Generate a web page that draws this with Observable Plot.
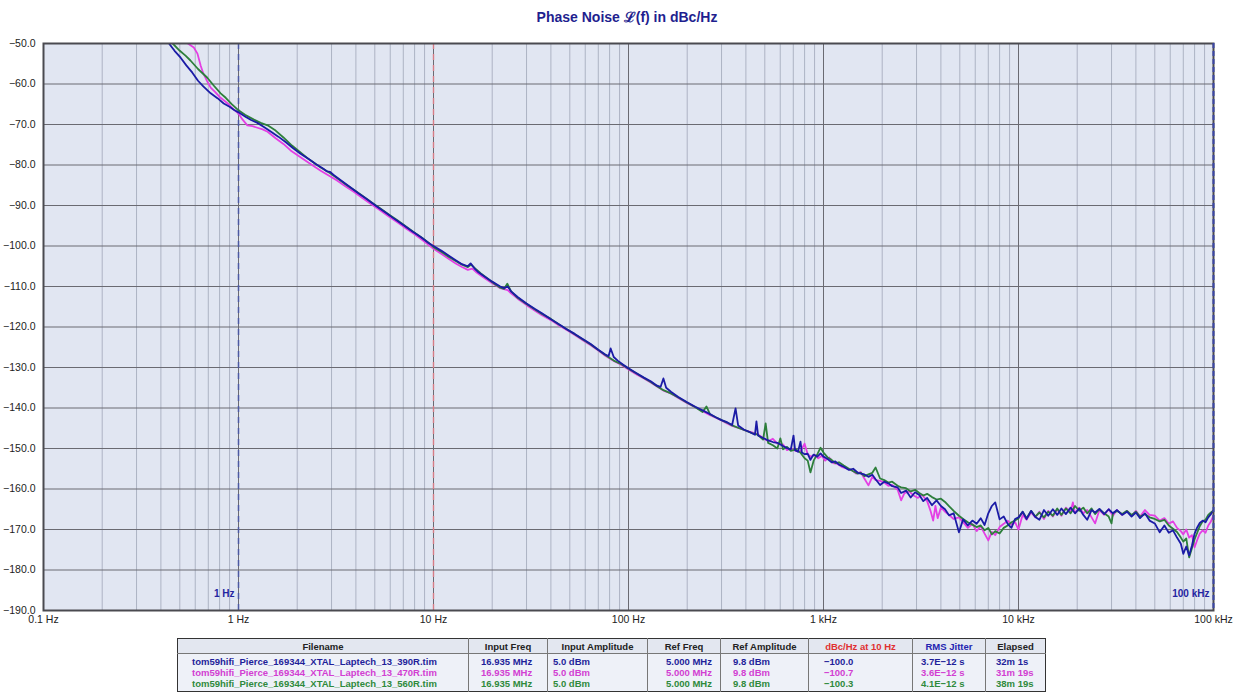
<!DOCTYPE html>
<html>
<head>
<meta charset="utf-8">
<script src="https://cdn.jsdelivr.net/npm/d3@7"></script>
<script src="https://cdn.jsdelivr.net/npm/@observablehq/plot@0.6"></script>
<style>
  html, body { margin: 0; padding: 0; background: #fff; }
  #wrap { position: relative; width: 1242px; height: 693px; overflow: hidden; font-family: "Liberation Sans", Arial, sans-serif; }
  #title { position: absolute; top: 7px; left: 627px; transform: translateX(-50%); font: bold 14px "Liberation Sans", Arial, sans-serif; color: #1f1f8f; white-space: nowrap; }
  #chart { position: absolute; top: 30px; left: 0; }
  #tbl { position: absolute; top: 638px; left: 177px; border-collapse: collapse; table-layout: fixed; font: bold 9.5px "Liberation Sans", Arial, sans-serif; border: 1.5px solid #333; }
  #tbl th { background: #e3e7f0; color: #222; font-weight: bold; text-align: center; height: 14px; padding: 0; border-left: 1px solid #777; border-bottom: 1px solid #777; }
  #tbl td { background: #eef1f8; text-align: left; padding: 0; height: 11px; line-height: 11px; border-left: 1px solid #777; white-space: nowrap; }
</style>
</head>
<body>
<div id="wrap">
  <div id="title">Phase Noise ℒ(f) in dBc/Hz</div>
  <div id="chart"></div>
  <table id="tbl"></table>
</div>
<script>
// ---------- data ----------
const seriesNames = ["390R", "470R", "560R"];
const seriesColors = ["#1b1ba6", "#e43fe4", "#2d7f3b"];
const textColors = ["#1f1f9a", "#d23ed2", "#2f8a3c"];

const xTickValues = [0.1, 1, 10, 100, 1000, 10000, 100000];
const xTickLabels = ["0.1 Hz", "1 Hz", "10 Hz", "100 Hz", "1 kHz", "10 kHz", "100 kHz"];
const yTickValues = [-190, -180, -170, -160, -150, -140, -130, -120, -110, -100, -90, -80, -70, -60, -50];

// [frequency Hz, dBc/Hz]
const blue390 = [[0.44,-50.0],[0.47,-51.8],[0.505,-53.5],[0.54,-55.4],[0.58,-57.2],[0.62,-59.2],[0.66,-60.6],[0.72,-62.3],[0.78,-63.5],[0.84,-64.8],[0.9,-65.6],[0.95,-66.4],[1.0,-67.0],[1.08,-68.0],[1.16,-68.9],[1.25,-69.6],[1.35,-70.6],[1.45,-71.6],[1.6,-73.0],[1.75,-74.4],[1.9,-75.8],[2.08,-77.2],[2.3,-78.6],[2.5,-79.8],[2.7,-80.8],[2.85,-81.6],[2.95,-81.7],[3.1,-82.6],[3.4,-84.0],[3.7,-85.3],[4.1,-86.9],[4.6,-88.6],[5.1,-90.2],[5.7,-91.8],[6.3,-93.3],[7.0,-94.8],[7.8,-96.4],[8.6,-97.8],[9.4,-99.2],[10,-100.0],[11,-101.2],[12,-102.4],[13,-103.5],[14,-104.5],[15,-105.0],[15.5,-104.3],[16.2,-105.5],[17,-106.5],[18.5,-107.7],[20,-108.8],[22,-110.0],[23,-110.4],[24,-110.0],[25,-111.2],[27,-112.6],[30,-114.2],[33,-115.5],[36,-116.6],[40,-118.1],[44,-119.3],[48,-120.5],[53,-121.7],[58,-122.9],[64,-124.2],[70,-125.6],[76,-126.8],[79,-127.2],[81,-125.3],[84,-127.4],[88,-128.3],[94,-129.3],[100,-130.2],[110,-131.4],[120,-132.5],[130,-133.4],[140,-134.5],[146,-134.8],[151,-132.7],[156,-135.0],[165,-136.0],[180,-137.3],[200,-138.6],[220,-139.7],[240,-140.6],[262,-141.5],[280,-142.3],[300,-143.0],[320,-143.5],[340,-144.2],[354,-140.1],[365,-144.3],[390,-145.3],[420,-146.0],[445,-146.6],[453,-143.3],[462,-146.8],[490,-147.4],[520,-148.0],[550,-148.4],[580,-148.6],[620,-149.4],[650,-149.9],[680,-150.2],[702,-146.8],[715,-150.4],[740,-150.8],[762,-148.3],[775,-151.0],[800,-151.4],[830,-151.3],[857,-152.8],[890,-151.5],[930,-152.0],[966,-151.2],[1000,-152.0],[1050,-152.6],[1100,-153.4],[1150,-153.2],[1200,-154.0],[1270,-154.5],[1350,-155.3],[1420,-155.0],[1500,-156.0],[1620,-156.4],[1700,-157.0],[1780,-156.5],[1850,-157.6],[1950,-159.0],[2050,-158.2],[2150,-158.6],[2250,-159.3],[2400,-159.6],[2500,-161.0],[2650,-160.4],[2800,-162.1],[2950,-160.8],[3100,-161.5],[3250,-163.0],[3400,-162.2],[3600,-164.0],[3800,-162.8],[4000,-164.2],[4200,-165.0],[4400,-166.5],[4650,-166.0],[4950,-170.7],[5200,-167.5],[5500,-169.0],[5800,-167.8],[6100,-168.6],[6400,-167.2],[6700,-168.9],[7000,-166.0],[7300,-164.2],[7600,-163.3],[8000,-167.5],[8400,-166.8],[8800,-168.6],[9200,-169.6],[9600,-167.4],[10000,-167.0],[10500,-165.6],[11000,-167.4],[11600,-165.4],[12200,-166.9],[12800,-167.6],[13500,-165.2],[14200,-166.6],[15000,-165.0],[15800,-166.4],[16600,-164.8],[17500,-166.2],[18500,-164.6],[19500,-166.0],[20500,-164.8],[21500,-166.4],[22500,-167.6],[23700,-165.2],[24700,-165.8],[26000,-164.9],[27500,-166.2],[29000,-165.0],[30500,-166.0],[32000,-165.2],[34000,-166.4],[36000,-165.6],[38000,-166.8],[40000,-165.8],[42000,-167.2],[44500,-166.0],[47000,-167.8],[50000,-168.5],[53000,-170.7],[56000,-169.0],[59000,-170.8],[62000,-170.2],[65000,-172.0],[68000,-173.5],[70000,-176.0],[72500,-174.2],[75000,-176.4],[77500,-174.0],[80000,-171.0],[82500,-169.5],[85000,-168.4],[88000,-167.8],[91000,-168.2],[94000,-167.0],[97000,-166.2],[100000,-165.3]];

const magenta470 = [[0.55,-50.0],[0.59,-51.0],[0.616,-52.5],[0.64,-55.5],[0.66,-57.4],[0.69,-59.3],[0.72,-60.9],[0.76,-62.0],[0.8,-63.2],[0.84,-64.0],[0.88,-64.8],[0.94,-66.2],[1.0,-67.3],[1.05,-68.8],[1.11,-70.2],[1.18,-70.4],[1.25,-70.8],[1.33,-71.2],[1.41,-71.8],[1.55,-73.4],[1.7,-74.8],[1.85,-76.4],[2.08,-78.1],[2.3,-79.5],[2.64,-81.4],[2.9,-82.6],[3.2,-83.8],[3.5,-85.1],[3.9,-86.6],[4.3,-88.1],[4.8,-89.7],[5.3,-91.1],[5.9,-92.7],[6.5,-94.1],[7.2,-95.6],[8.0,-97.1],[8.8,-98.6],[9.5,-99.8],[10,-100.7],[11,-102.0],[12,-103.2],[13,-104.3],[14,-105.2],[15,-105.9],[15.8,-105.6],[16.5,-106.4],[18,-107.7],[20,-109.2],[22,-110.4],[24,-110.9],[25,-111.7],[27,-113.0],[30,-114.6],[33,-115.9],[36,-117.1],[40,-118.3],[44,-119.6],[48,-120.7],[53,-122.0],[58,-123.2],[64,-124.5],[70,-125.8],[76,-127.1],[84,-128.4],[92,-129.4],[100,-130.5],[110,-131.7],[120,-132.7],[130,-133.7],[140,-134.7],[151,-135.7],[165,-136.4],[180,-137.5],[200,-138.8],[220,-139.8],[240,-140.8],[262,-141.8],[280,-142.4],[300,-143.1],[320,-143.8],[340,-144.4],[370,-145.0],[400,-145.6],[430,-146.0],[460,-146.5],[490,-147.4],[520,-148.2],[550,-147.6],[580,-148.8],[620,-149.0],[650,-150.4],[680,-150.0],[720,-150.6],[760,-150.8],[800,-148.8],[830,-151.4],[860,-152.0],[900,-151.6],[940,-152.4],[980,-151.8],[1020,-153.0],[1070,-152.2],[1120,-153.6],[1180,-153.8],[1250,-154.6],[1320,-155.0],[1400,-155.4],[1470,-156.2],[1550,-155.8],[1620,-157.4],[1700,-159.1],[1780,-157.0],[1850,-157.8],[1950,-158.0],[2050,-158.4],[2150,-159.2],[2250,-159.0],[2400,-160.2],[2500,-162.8],[2600,-161.0],[2750,-160.6],[2900,-161.6],[3050,-162.2],[3200,-161.4],[3400,-163.0],[3550,-165.6],[3650,-167.8],[3750,-164.2],[3850,-167.2],[4000,-164.6],[4200,-165.6],[4400,-166.4],[4650,-167.4],[4950,-167.0],[5200,-168.2],[5500,-169.6],[5800,-168.6],[6100,-170.4],[6400,-169.2],[6700,-171.0],[7000,-172.7],[7300,-170.6],[7600,-171.4],[8000,-169.4],[8400,-168.6],[8800,-167.8],[9200,-168.8],[9600,-168.2],[10000,-170.0],[10500,-166.4],[11000,-167.6],[11600,-165.8],[12200,-167.0],[12800,-165.6],[13500,-167.4],[14200,-165.4],[15000,-166.8],[15800,-165.0],[16600,-166.6],[17500,-164.6],[18500,-165.6],[19000,-163.3],[19500,-166.0],[20500,-164.6],[21500,-166.0],[22500,-165.2],[23700,-167.0],[24700,-168.5],[26000,-165.2],[27500,-166.4],[29000,-165.0],[30500,-166.6],[32000,-165.2],[34000,-166.4],[36000,-165.4],[38000,-166.6],[40000,-165.4],[42000,-166.8],[44500,-165.2],[47000,-166.4],[50000,-166.6],[53000,-167.8],[56000,-167.2],[59000,-168.6],[62000,-168.0],[65000,-169.6],[68000,-170.4],[70000,-171.2],[72500,-170.0],[75000,-172.0],[77500,-171.4],[80000,-174.4],[82500,-172.6],[85000,-171.0],[88000,-170.2],[91000,-170.8],[94000,-169.0],[97000,-168.0],[100000,-166.5]];

const green560 = [[0.46,-50.0],[0.5,-51.8],[0.535,-53.0],[0.567,-54.2],[0.62,-56.3],[0.69,-58.4],[0.75,-60.5],[0.81,-62.3],[0.86,-63.4],[0.92,-64.9],[1.0,-66.5],[1.08,-67.6],[1.2,-68.8],[1.3,-69.6],[1.41,-70.2],[1.55,-71.5],[1.7,-73.2],[1.88,-75.2],[2.08,-76.9],[2.3,-78.6],[2.64,-80.6],[2.9,-81.8],[3.2,-83.2],[3.5,-84.6],[3.9,-86.1],[4.3,-87.5],[4.8,-89.2],[5.3,-90.6],[5.9,-92.2],[6.5,-93.6],[7.2,-95.1],[8.0,-96.7],[8.8,-98.1],[9.5,-99.3],[10,-100.3],[11,-101.5],[12,-102.7],[13,-103.7],[14,-104.6],[15,-105.2],[15.6,-104.6],[16.4,-105.6],[17.5,-106.8],[19,-108.1],[20.5,-109.3],[22,-110.3],[23,-110.6],[23.9,-109.3],[25,-111.2],[27,-112.8],[30,-114.3],[33,-115.6],[36,-116.8],[40,-118.0],[44,-119.4],[48,-120.5],[53,-121.8],[58,-123.0],[64,-124.3],[70,-125.7],[76,-126.9],[84,-128.3],[92,-129.2],[100,-130.3],[110,-131.5],[120,-132.6],[130,-133.6],[140,-134.6],[151,-135.6],[165,-136.4],[180,-137.4],[200,-138.7],[220,-139.8],[240,-141.0],[251,-139.6],[262,-141.6],[280,-142.3],[300,-143.0],[320,-143.6],[340,-144.3],[370,-145.0],[400,-145.6],[430,-146.2],[460,-146.6],[490,-147.8],[505,-143.8],[520,-148.6],[550,-149.2],[580,-150.0],[601,-147.5],[620,-150.2],[650,-149.6],[680,-150.6],[720,-150.2],[760,-151.0],[800,-152.4],[830,-153.0],[857,-155.9],[890,-153.0],[930,-151.4],[966,-149.8],[1000,-151.0],[1050,-152.2],[1100,-152.8],[1150,-153.6],[1200,-153.4],[1270,-154.2],[1350,-155.0],[1420,-155.6],[1500,-156.2],[1550,-156.0],[1620,-156.8],[1700,-156.4],[1780,-156.0],[1850,-154.7],[1950,-157.4],[2050,-157.8],[2150,-158.4],[2250,-158.2],[2400,-159.2],[2500,-159.6],[2650,-159.8],[2800,-160.6],[2950,-160.2],[3100,-161.0],[3250,-161.6],[3400,-161.2],[3600,-162.0],[3800,-162.6],[4000,-162.4],[4200,-163.2],[4400,-164.2],[4650,-165.4],[4950,-166.6],[5200,-167.4],[5500,-168.2],[5800,-168.8],[6100,-169.4],[6400,-169.0],[6700,-170.2],[7000,-169.6],[7300,-171.2],[7600,-170.4],[8000,-171.0],[8400,-169.6],[8800,-169.0],[9200,-168.2],[9600,-167.8],[10000,-167.2],[10500,-165.6],[11000,-167.2],[11600,-165.4],[12200,-166.8],[12800,-165.8],[13500,-167.0],[14200,-165.6],[15000,-166.6],[15800,-164.8],[16600,-166.4],[17500,-164.8],[18500,-166.0],[19500,-164.2],[20500,-165.4],[21500,-164.6],[22500,-166.0],[23700,-164.8],[24700,-166.2],[26000,-165.0],[27500,-166.0],[29000,-166.8],[30000,-168.5],[30500,-166.0],[32000,-165.4],[34000,-166.2],[36000,-165.4],[38000,-166.4],[40000,-165.6],[42000,-166.8],[44500,-166.2],[47000,-167.0],[50000,-167.4],[53000,-168.0],[56000,-167.6],[59000,-169.0],[62000,-169.8],[65000,-170.6],[68000,-172.0],[70000,-173.0],[72500,-172.2],[75000,-176.9],[77500,-174.6],[80000,-172.4],[82500,-170.8],[85000,-169.2],[88000,-168.0],[91000,-167.6],[94000,-166.4],[97000,-165.8],[100000,-165.3]];

// table
const tableHeaders = ["Filename", "Input Freq", "Input Amplitude", "Ref Freq", "Ref Amplitude", "dBc/Hz at 10 Hz", "RMS Jitter", "Elapsed"];
const fileNames = ["tom59hifi_Pierce_169344_XTAL_Laptech_13_390R.tim", "tom59hifi_Pierce_169344_XTAL_Laptech_13_470R.tim", "tom59hifi_Pierce_169344_XTAL_Laptech_13_560R.tim"];
const inputFreq = ["16.935 MHz", "16.935 MHz", "16.935 MHz"];
const inputAmp = ["5.0 dBm", "5.0 dBm", "5.0 dBm"];
const refFreq = ["5.000 MHz", "5.000 MHz", "5.000 MHz"];
const refAmp = ["9.8 dBm", "9.8 dBm", "9.8 dBm"];
const dbc10 = ["\u2212100.0", "\u2212100.7", "\u2212100.3"];
const rmsJitter = ["3.7E\u221212 s", "3.6E\u221212 s", "4.1E\u221212 s"];
const elapsed = ["32m 1s", "31m 19s", "38m 19s"];

// ---------- chart ----------
const series = [
  {name: seriesNames[1], data: magenta470, color: seriesColors[1]},
  {name: seriesNames[2], data: green560, color: seriesColors[2]},
  {name: seriesNames[0], data: blue390, color: seriesColors[0]}
];
const xGrid = d3.scaleLog().domain([0.1, 100000]).ticks().filter(v => !xTickValues.some(t => Math.abs(t - v) / t < 1e-9));
const fmtY = d3.format(".1f");
const xLabelOf = v => {
  const i = xTickValues.findIndex(t => Math.abs(t - v) / t < 1e-9);
  return i >= 0 ? xTickLabels[i] : "";
};

const marks = [
  Plot.frame({fill: "#e1e6f2", stroke: null}),
  Plot.ruleX(xGrid, {stroke: "#adb3c4", strokeWidth: 1}),
  Plot.ruleX(xTickValues, {stroke: "#6a6a72", strokeWidth: 1}),
  Plot.ruleY(yTickValues, {stroke: "#6a6a72", strokeWidth: 1}),
  Plot.ruleX([1], {stroke: "#4c58a2", strokeWidth: 1.5, strokeDasharray: "6,5"}),
  Plot.ruleX([10], {stroke: "#d67c86", strokeWidth: 1.4, strokeDasharray: "6,5"}),
  ...series.map(s => Plot.line(s.data, {x: d => d[0], y: d => d[1], stroke: s.color, strokeWidth: 1.8, clip: true})),
  Plot.frame({stroke: "#4a4a50", strokeWidth: 2}),
  Plot.ruleX([100000], {stroke: "#3b46a8", strokeWidth: 2, strokeDasharray: "5,3"}),
  Plot.text([{f: 1, t: "1 Hz"}, {f: 100000, t: "100 kHz"}], {x: "f", text: "t", frameAnchor: "bottom", dy: -14, dx: -4, textAnchor: "end", fill: "#2424a0", fontWeight: "bold", fontSize: 10}),
  Plot.axisX(xTickValues, {tickSize: 0, tickPadding: 5, tickFormat: xLabelOf, fill: "#222", fontSize: 10.5, label: null}),
  Plot.axisY(yTickValues, {tickSize: 0, tickPadding: 8, tickFormat: d => fmtY(d), fill: "#222", fontSize: 10.5, label: null})
];

const chart = Plot.plot({
  width: 1242,
  height: 606,
  marginLeft: 43,
  marginRight: 29,
  marginTop: 13,
  marginBottom: 26,
  x: {type: "log", domain: [0.1, 100000]},
  y: {domain: [-190, -50]},
  style: {background: "transparent", fontFamily: "'Liberation Sans', Arial, sans-serif", fontSize: "10.5px"},
  marks
});
document.getElementById("chart").appendChild(chart);

// ---------- table ----------
const colWidths = [291, 79, 100, 73, 88, 104, 73, 60];
const colPads = [14, 12, 5, 18, 12, 15, 8, 10];
const tbl = document.getElementById("tbl");
const colgroup = document.createElement("colgroup");
colWidths.forEach(w => { const c = document.createElement("col"); c.style.width = w + "px"; colgroup.appendChild(c); });
tbl.appendChild(colgroup);
const hr = document.createElement("tr");
tableHeaders.forEach((h, i) => {
  const th = document.createElement("th");
  th.textContent = h;
  if (i === 0) th.style.borderLeft = "none";
  if (h.startsWith("dBc")) th.style.color = "#e03030";
  if (h === "RMS Jitter") th.style.color = "#2424b0";
  hr.appendChild(th);
});
tbl.appendChild(hr);
const cols = [fileNames, inputFreq, inputAmp, refFreq, refAmp, dbc10, rmsJitter, elapsed];
for (let r = 0; r < 3; r++) {
  const tr = document.createElement("tr");
  cols.forEach((c, i) => {
    const td = document.createElement("td");
    td.textContent = c[r];
    td.style.color = textColors[r];
    td.style.paddingLeft = colPads[i] + "px";
    if (i === 0) td.style.borderLeft = "none";
    if (r === 0) td.style.paddingTop = "2px";
    if (r === 2) td.style.paddingBottom = "2px";
    tr.appendChild(td);
  });
  tbl.appendChild(tr);
}
</script>
</body>
</html>
